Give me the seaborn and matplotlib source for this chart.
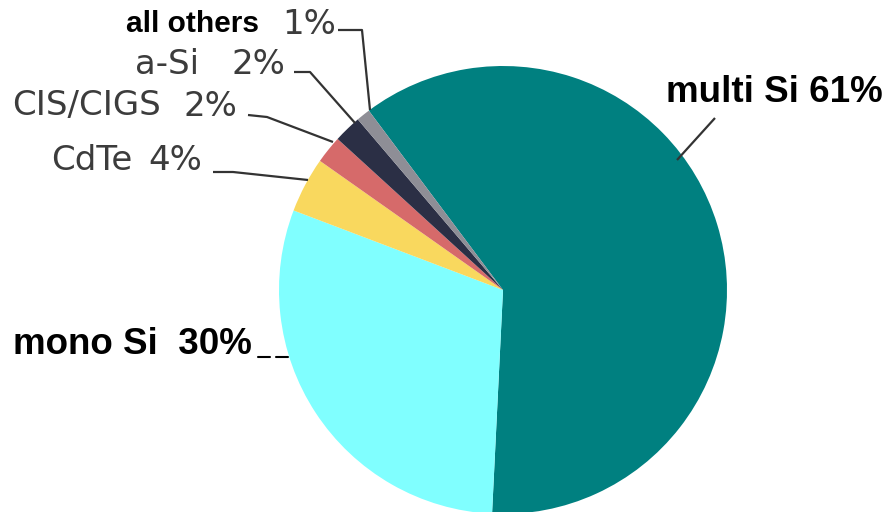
import matplotlib
matplotlib.use("Agg")
import matplotlib.pyplot as plt
import seaborn as sns

sns.set_theme(style="white")
plt.rcParams["font.family"] = ["DejaVu Sans"]

# Market share of PV technologies
technologies = ["multi Si", "mono Si", "CdTe", "CIS/CIGS", "a-Si", "all others"]
shares = [61, 30, 4, 2, 2, 1]
colors = ["#008080", "#80FFFF", "#F9D85E", "#D66A6A", "#2B2F45", "#8E8E96"]

W, H = 889, 512
fig = plt.figure(figsize=(W / 100, H / 100), dpi=100)
ax = fig.add_axes([0, 0, 1, 1])


def py(y):
    # convert a top-down pixel row into the axis y coordinate
    return H - y


ax.pie(shares, colors=colors, startangle=126.8, counterclock=False,
       center=(503, py(290)), radius=224, frame=True,
       wedgeprops=dict(linewidth=0))
ax.set_xlim(0, W)
ax.set_ylim(0, H)
ax.set_aspect("equal")
ax.axis("off")

gray = "#3c3c3c"
small = 24.5
big = 26.5

# small-slice labels: name and share drawn as separate pieces
ax.text(126, py(24), "all others", fontsize=21.5, fontweight="bold",
        family="Liberation Sans", color="black", va="center", ha="left")
ax.text(282, py(25), f"{shares[5]}%", fontsize=small, color=gray,
        va="center", ha="left")
ax.text(135, py(64), technologies[4], fontsize=small, color=gray,
        va="center", ha="left")
ax.text(231, py(64), f"{shares[4]}%", fontsize=small, color=gray,
        va="center", ha="left")
ax.text(12, py(106), technologies[3], fontsize=small, color=gray,
        va="center", ha="left")
ax.text(183, py(106), f"{shares[3]}%", fontsize=small, color=gray,
        va="center", ha="left")
ax.text(51, py(160), technologies[2], fontsize=small, color=gray,
        va="center", ha="left")
ax.text(148, py(160), f"{shares[2]}%", fontsize=small, color=gray,
        va="center", ha="left")

# large-slice labels
ax.text(666, py(93), f"{technologies[0]} {shares[0]}%", fontsize=big,
        fontweight="bold", family="Liberation Sans", color="black",
        va="center", ha="left")
ax.text(13, py(344), f"{technologies[1]}  {shares[1]}%", fontsize=big,
        fontweight="bold", family="Liberation Sans", color="black",
        va="center", ha="left")

# leader lines
leaders = [
    ([338, 362, 370], [30, 30, 110]),
    ([294, 310, 355], [72, 72, 123]),
    ([248, 267, 333], [115, 117, 142]),
    ([213, 233, 308], [172, 172, 180]),
    ([715, 677], [118, 160]),
]
for xs, ys in leaders:
    ax.plot(xs, [py(v) for v in ys], color="#333333", lw=1.6,
            solid_capstyle="butt")
ax.plot([258, 270], [py(357), py(357)], color="black", lw=1.5)
ax.plot([276, 288], [py(357), py(357)], color="black", lw=1.5)

fig.savefig("out.png", dpi=100, facecolor="white")
